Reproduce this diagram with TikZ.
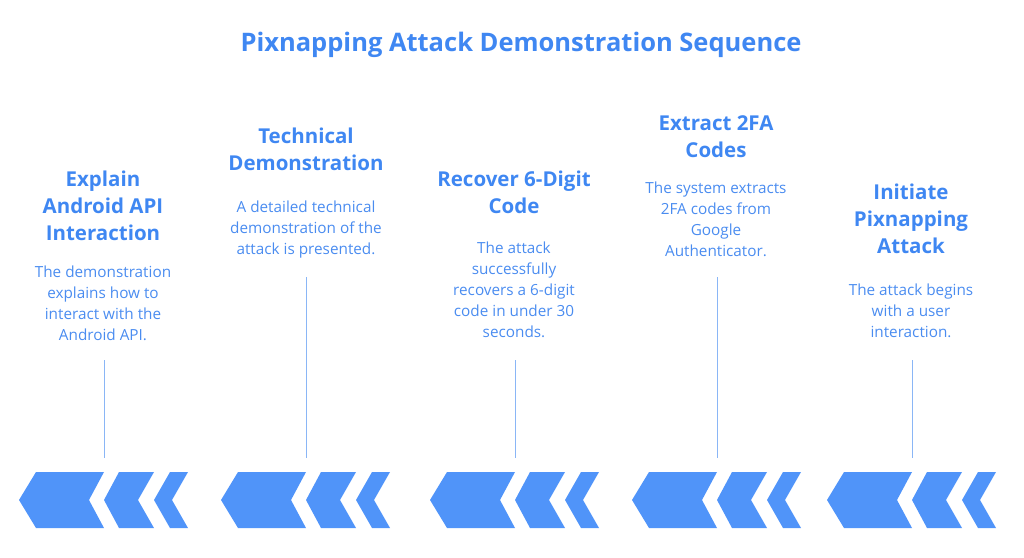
\documentclass[tikz,border=0pt]{standalone}
\usepackage{fontspec}
\setmainfont{Open Sans}
\definecolor{chevblue}{HTML}{5094F9}
\definecolor{headblue}{HTML}{3F87F2}
\definecolor{textblue}{HTML}{4A8CF0}
\definecolor{lineblue}{HTML}{8AB6F6}
\tikzset{head/.style={headblue,font=\fontsize{20.5}{27}\selectfont\bfseries,align=center,inner sep=0pt,anchor=north},
  body/.style={textblue,font=\fontsize{15.3}{21}\selectfont,align=center,inner sep=0pt,anchor=north},
  stem/.style={lineblue,line width=1pt}}
\newcommand{\chevs}[1]{%
  \fill[chevblue] (#1+0,500) -- (#1+17,472) -- (#1+85,472) -- (#1+70,500) -- (#1+85,528) -- (#1+17,528) -- cycle;
  \fill[chevblue] (#1+85,500) -- (#1+100,472) -- (#1+135,472) -- (#1+119,500) -- (#1+135,528) -- (#1+100,528) -- cycle;
  \fill[chevblue] (#1+135,500) -- (#1+151,472) -- (#1+169,472) -- (#1+153,500) -- (#1+169,528) -- (#1+151,528) -- cycle;}
\begin{document}
\begin{tikzpicture}[x=1pt,y=-1pt]
  \useasboundingbox (0,0) rectangle (1024,557);
  \node[head,font=\fontsize{25.5}{30}\selectfont\bfseries] (title) at (521,32) {Pixnapping Attack Demonstration Sequence};
  % columns
  \foreach \cx/\top/\tip in {104/360/19,306/277/221,515/360/430,717/277/632,912/360/827}{
    \coordinate (s-top) at (\cx,\top);
    \coordinate (s-bot) at (\cx,458);
    \draw[stem] (s-top) -- (s-bot);
    \chevs{\tip}
  }
  \node[head] (h1) at (103,171) {Explain\\Android API\\Interaction};
  \node[body] (b1) at (103,266) {The demonstration\\explains how to\\interact with the\\Android API.};
  \node[head] (h2) at (306,128) {Technical\\Demonstration};
  \node[body] (b2) at (306,201) {A detailed technical\\demonstration of the\\attack is presented.};
  \node[head] (h3) at (514,171) {Recover 6-Digit\\Code};
  \node[body] (b3) at (514,242) {The attack\\successfully\\recovers a 6-digit\\code in under 30\\seconds.};
  \node[head] (h4) at (716,115) {Extract 2FA\\Codes};
  \node[body] (b4) at (716,182) {The system extracts\\2FA codes from\\Google\\Authenticator.};
  \node[head] (h5) at (911,184) {Initiate\\Pixnapping\\Attack};
  \node[body] (b5) at (911,284) {The attack begins\\with a user\\interaction.};
\end{tikzpicture}
\end{document}
